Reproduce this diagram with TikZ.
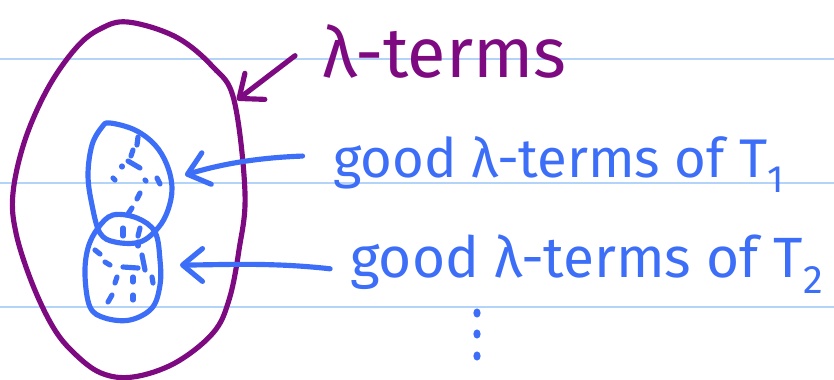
\documentclass[tikz,border=0pt]{standalone}
\usepackage{fontspec}
\setmainfont{Fira Sans}
\usetikzlibrary{arrows.meta, positioning}
\definecolor{lpurple}{HTML}{7D0A80}
\definecolor{lblue}{HTML}{3D6EF7}
\definecolor{lrule}{HTML}{B3D4F8}

\begin{document}
\begin{tikzpicture}[x=0.03cm, y=-0.03cm,
  pen/.style={line width=4.4pt, line cap=round, line join=round},
  tipbarb/.style={-{Straight Barb[length=17pt,width=28pt,round]}},
  hand/.style={inner sep=0pt, anchor=base west}]
\useasboundingbox (0,0) rectangle (834,379);
% notebook rules
\foreach \ry in {59,183,307}
  \draw[lrule, line width=1.6pt] (0,\ry) -- (834,\ry);
% all lambda-terms
\draw[pen, lpurple] plot[smooth cycle, tension=0.6] coordinates {
  (128,22) (176,37) (213,67) (234,100) (245,193) (239,250) (229,300)
  (213,333) (175,363) (133,377) (101,373) (74,353) (53,327) (32,283)
  (16,233) (13,193) (25,140) (48,88) (76,48) (100,29)};
\coordinate (outer tip) at (237,100);
% good terms of T1 and T2
\draw[pen, lblue] plot[smooth cycle, tension=0.6] coordinates {
  (110,123) (135,130) (155,145) (167,165) (172,188) (168,210) (158,228)
  (140,242) (115,242) (100,233) (92,205) (88,175) (92,145) (102,127)};
\draw[pen, lblue] plot[smooth cycle, tension=0.6] coordinates {
  (113,215) (137,218) (155,232) (160,260) (160,285) (152,308) (130,320)
  (105,318) (90,307) (85,275) (88,248) (98,228)};
\coordinate (set1 tip) at (185,175);
\coordinate (set2 tip) at (180,265);
% dashed strokes inside
\foreach \xa/\ya/\xb/\yb in {138/137/137/145, 133/150/131/156, 128/161/140/168,
    122/166/122/167, 113/178/115/180, 145/180/146/181, 157/178/160/184,
    140/193/137/199, 132/208/128/214, 123/228/123/236, 140/228/138/236,
    138/242/138/246, 95/250/100/254, 105/262/110/265, 123/267/138/268,
    142/255/145/270, 117/277/115/283, 133/277/133/282, 152/277/153/283,
    112/295/108/302, 133/295/133/300}
  \draw[pen, lblue] (\xa,\ya) -- (\xb,\yb);
% labels
\node[hand, text=lpurple, font=\fontsize{60}{60}\selectfont] (lterms) at (322,77) {λ-terms};
\node[hand, text=lblue, font=\fontsize{46.5}{50}\selectfont] (good1) at (333,177) {good λ-terms of T\textsubscript{1}};
\node[hand, text=lblue, font=\fontsize{48.5}{52}\selectfont] (good2) at (350,277) {good λ-terms of T\textsubscript{2}};
% arrows
\draw[pen, lpurple, tipbarb] ([xshift=-23pt,yshift=-4pt]lterms.west) -- (outer tip);
\draw[pen, lblue, tipbarb] ([xshift=-26pt,yshift=7pt]good1.west)
  .. controls (250,158) and (215,166) .. (set1 tip);
\draw[pen, lblue, tipbarb] ([xshift=-17pt,yshift=-4pt]good2.west)
  .. controls (270,262) and (220,265) .. (set2 tip);
% more to come
\foreach \dy in {313,334,356}
  \fill[lblue] (477,\dy) ellipse [x radius=3.6, y radius=4.6];
\end{tikzpicture}
\end{document}
